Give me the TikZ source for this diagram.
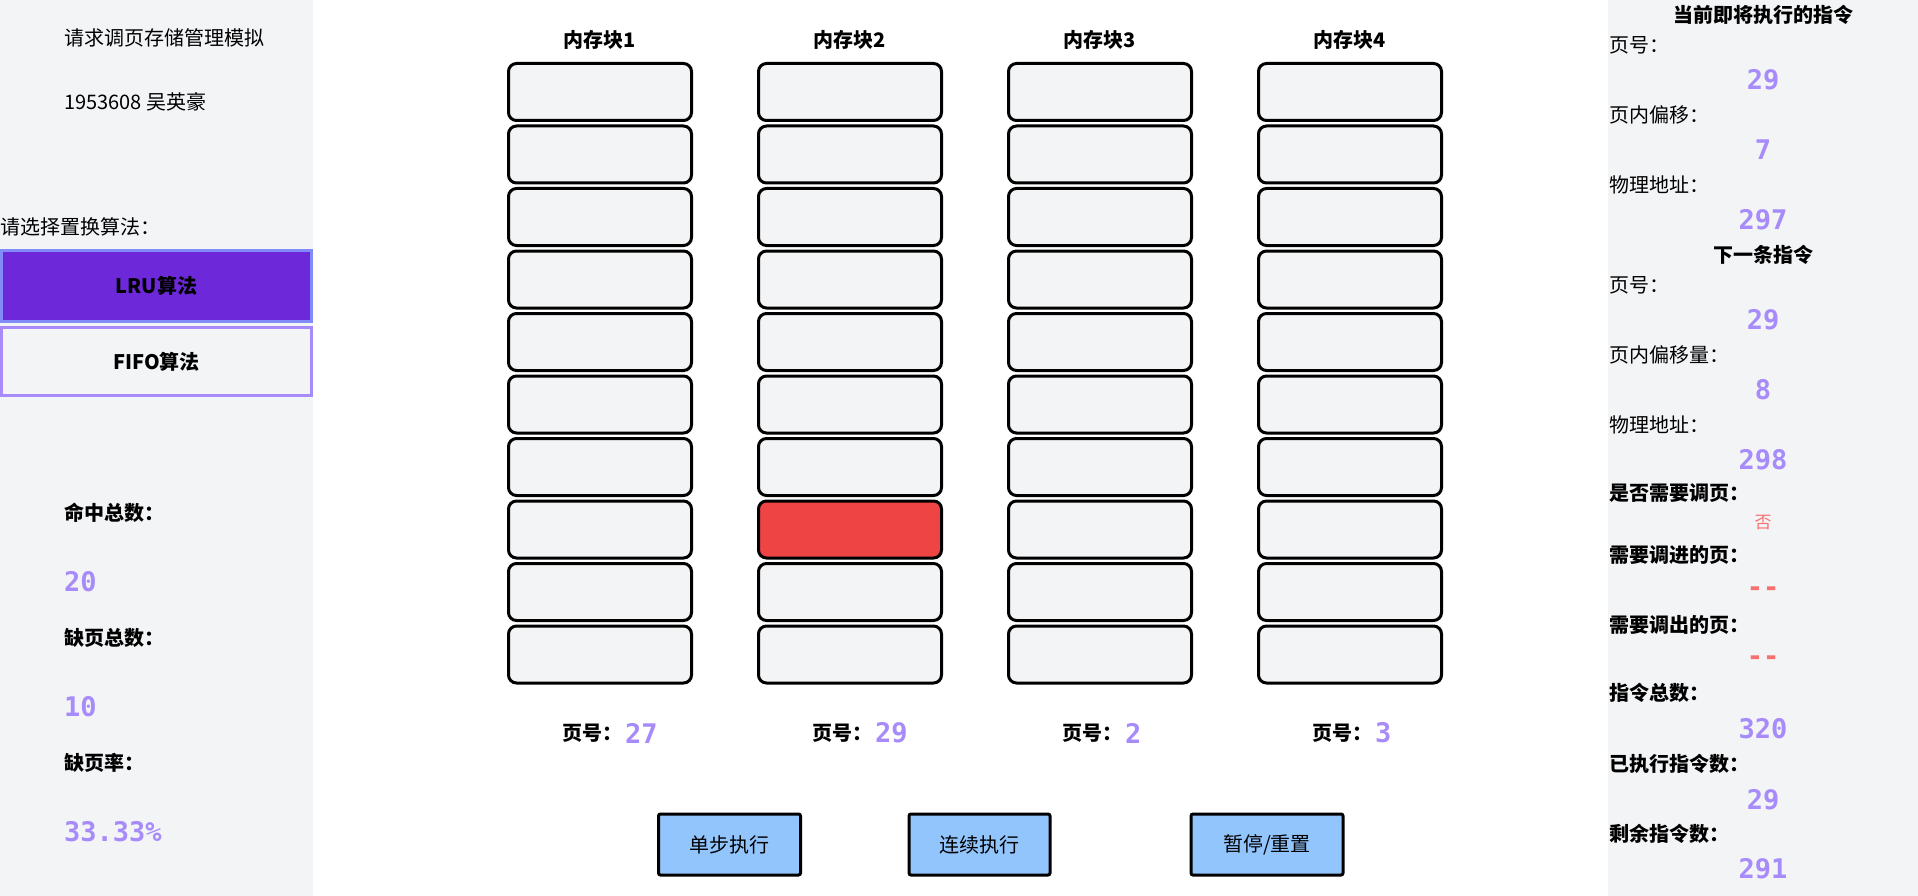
\documentclass[tikz,border=0pt]{standalone}
\usepackage{fontspec}
\setmainfont{Noto Sans CJK SC}
\newfontfamily\monof{DejaVu Sans Mono}
\definecolor{panel}{HTML}{F3F4F6}
\definecolor{blkfill}{HTML}{F3F4F6}
\definecolor{redb}{HTML}{EF4444}
\definecolor{numc}{HTML}{A78BFA}
\definecolor{redt}{HTML}{F87171}
\definecolor{lrufill}{HTML}{6D28D9}
\definecolor{lruedge}{HTML}{818CF8}
\definecolor{fifoedge}{HTML}{A78BFA}
\definecolor{btnfill}{HTML}{93C5FD}
\tikzset{
  lab/.style={inner sep=0pt, anchor=west, font=\fontsize{20}{22}\selectfont},
  blab/.style={inner sep=0pt, anchor=west, font=\fontsize{20}{22}\selectfont\bfseries},
  head/.style={inner sep=0pt, font=\fontsize{20}{22}\selectfont\bfseries},
  num/.style={inner sep=0pt, text=numc, font=\monof\bfseries\fontsize{27}{30}\selectfont},
  blk/.style={draw=black, line width=3pt, rounded corners=8pt, minimum width=183pt, minimum height=57pt, inner sep=0pt},
  btn/.style={draw=black, fill=btnfill, line width=3pt, rounded corners=2pt, minimum height=61pt, inner sep=0pt, font=\fontsize{20}{22}\selectfont},
  algbtn/.style={line width=3pt, minimum width=310pt, inner sep=0pt, font=\fontsize{20}{22}\selectfont\bfseries}
}
\begin{document}
\begin{tikzpicture}[x=1pt,y=-1pt]
\useasboundingbox (0,0) rectangle (1918,896);
\fill[white] (0,0) rectangle (1918,896);
\fill[panel] (0,0) rectangle (313,896);
\fill[panel] (1608,0) rectangle (1918,896);
% left panel
\node[lab] (title) at (64,38) {请求调页存储管理模拟};
\node[lab] (sid) at (64,102) {1953608 吴英豪};
\node[lab] (choose) at (0,227) {请选择置换算法：};
\node[algbtn, draw=lruedge, fill=lrufill, minimum height=71pt] (lru) at (156.5,286) {LRU算法};
\node[algbtn, draw=fifoedge, fill=panel, minimum height=68pt] (fifo) at (156.5,361.5) {FIFO算法};
\node[blab] (hitlab) at (64,513) {命中总数：};
\node[num, anchor=west] (hit) at (64,582) {20};
\node[blab] (misslab) at (64,638) {缺页总数：};
\node[num, anchor=west] (miss) at (64,707) {10};
\node[blab] (ratelab) at (64,763) {缺页率：};
\node[num, anchor=west] (rate) at (64,832) {33.33\%};
% memory blocks
\foreach \c/\X/\p in {1/600/27,2/850/29,3/1100/2,4/1350/3}{
  \node[head] (ct\c) at (\X,40) {内存块\c};
  \foreach \i in {0,...,9}{
    \def\fc{blkfill}
    \ifnum\c=2 \ifnum\i=7 \def\fc{redb}\fi\fi
    \node[blk, fill=\fc] (b\c-\i) at (\X,{92+62.5*\i}) {};
  }
  \node[head, anchor=west] (pl\c) at ({\X-38},733) {页号：};
  \node[num, anchor=west] (pn\c) at ({\X+25},733) {\p};
}
% buttons
\node[btn, minimum width=142pt] (step1) at (729.5,844.5) {单步执行};
\node[btn, minimum width=141pt] (run) at (979.5,844.5) {连续执行};
\node[btn, minimum width=152pt] (pause) at (1267,844.5) {暂停/重置};
% right panel
\node[head] (h1) at (1763,15) {当前即将执行的指令};
\node[lab] (r1) at (1609,45) {页号：};
\node[num] (v1) at (1763,80) {29};
\node[lab] (r2) at (1609,115) {页内偏移：};
\node[num] (v2) at (1763,150) {7};
\node[lab] (r3) at (1609,185) {物理地址：};
\node[num] (v3) at (1763,220) {297};
\node[head] (h2) at (1763,255) {下一条指令};
\node[lab] (r4) at (1609,285) {页号：};
\node[num] (v4) at (1763,320) {29};
\node[lab] (r5) at (1609,355) {页内偏移量：};
\node[num] (v5) at (1763,390) {8};
\node[lab] (r6) at (1609,425) {物理地址：};
\node[num] (v6) at (1763,460) {298};
\node[blab] (r7) at (1609,493) {是否需要调页：};
\node[inner sep=0pt, text=redt, font=\fontsize{17}{19}\selectfont] (v7) at (1763,523) {否};
\node[blab] (r8) at (1609,555) {需要调进的页：};
\node[num, text=redt] (v8) at (1763,592) {{-}{-}};
\node[blab] (r9) at (1609,625) {需要调出的页：};
\node[num, text=redt] (v9) at (1763,661) {{-}{-}};
\node[blab] (r10) at (1609,693) {指令总数：};
\node[num] (v10) at (1763,729) {320};
\node[blab] (r11) at (1609,764) {已执行指令数：};
\node[num] (v11) at (1763,800) {29};
\node[blab] (r12) at (1609,834) {剩余指令数：};
\node[num] (v12) at (1763,869) {291};
\end{tikzpicture}
\end{document}
